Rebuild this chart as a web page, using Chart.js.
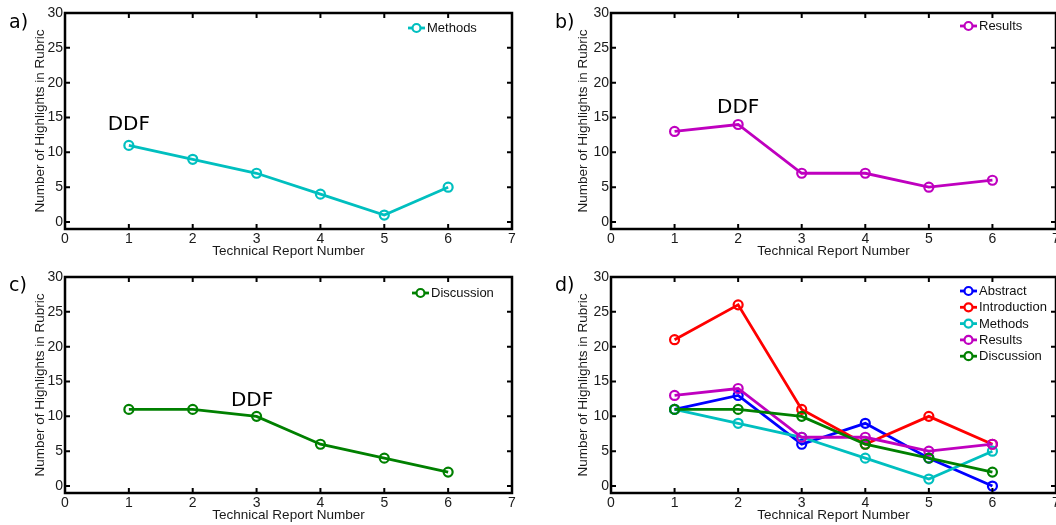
<!DOCTYPE html>
<html>
<head>
<meta charset="utf-8">
<script src="https://cdn.jsdelivr.net/npm/chart.js@4.4.1/dist/chart.umd.min.js"></script>
<style>
  body { margin: 0; width: 1056px; height: 525px; overflow: hidden; background: #fff; position: relative; }
  canvas { position: absolute; }
  .panel-label { position: absolute; font: 19px "DejaVu Sans", sans-serif; color: #000; line-height: 1; }
</style>
</head>
<body>
<canvas id="chartA" width="528" height="262" style="left:0;top:0"></canvas>
<canvas id="chartB" width="560" height="262" style="left:528px;top:0"></canvas>
<canvas id="chartC" width="528" height="262" style="left:0;top:264px"></canvas>
<canvas id="chartD" width="560" height="262" style="left:528px;top:264px"></canvas>
<div class="panel-label" style="left:9px;top:12px">a)</div>
<div class="panel-label" style="left:555px;top:12px">b)</div>
<div class="panel-label" style="left:9px;top:275px">c)</div>
<div class="panel-label" style="left:555px;top:275px">d)</div>
<script>
// données
const reportNumbers = [1, 2, 3, 4, 5, 6];
const abstractCounts = [11, 13, 6, 9, 4, 0];
const introductionCounts = [21, 26, 11, 6, 10, 6];
const methodsCounts = [11, 9, 7, 4, 1, 5];
const resultsCounts = [13, 14, 7, 7, 5, 6];
const discussionCounts = [11, 11, 10, 6, 4, 2];
const xTickValues = [0, 1, 2, 3, 4, 5, 6, 7];
const yTickValues = [0, 5, 10, 15, 20, 25, 30];

const COLORS = {
    Abstract: '#0000FF',
    Introduction: '#FF0000',
    Methods: '#00BFBF',
    Results: '#BF00BF',
    Discussion: '#008000'
};

const tickFont = { family: '"Liberation Sans", Arial, sans-serif', size: 14 };
const titleFont = { family: '"Liberation Sans", Arial, sans-serif', size: 13.5 };

function makeSeries(label, values, order) {
    return {
        label: label,
        data: reportNumbers.map((x, i) => ({ x: x, y: values[i] })),
        borderColor: COLORS[label],
        borderWidth: 2.8,
        pointRadius: 4.5,
        pointBorderWidth: 2.2,
        pointBackgroundColor: 'transparent',
        pointBorderColor: COLORS[label],
        tension: 0,
        order: order || 0
    };
}

// cadre façon matlab + légende + annotation DDF
const framePlugin = {
    id: 'frame',
    afterDatasetsDraw(chart, args, opts) {
        const { ctx, chartArea } = chart;
        const { left, top, right, bottom } = chartArea;
        const xs = chart.scales.x, ys = chart.scales.y;
        ctx.save();
        ctx.strokeStyle = '#000';
        ctx.lineWidth = 2.5;
        ctx.strokeRect(left, top, right - left, bottom - top);
        ctx.lineWidth = 2;
        ctx.beginPath();
        xTickValues.forEach(v => {
            const px = xs.getPixelForValue(v);
            ctx.moveTo(px, bottom); ctx.lineTo(px, bottom - 5);
            ctx.moveTo(px, top); ctx.lineTo(px, top + 5);
        });
        yTickValues.forEach(v => {
            const py = ys.getPixelForValue(v);
            ctx.moveTo(left, py); ctx.lineTo(left + 5, py);
            ctx.moveTo(right, py); ctx.lineTo(right - 5, py);
        });
        ctx.stroke();

        // légende
        ctx.font = '13px "Liberation Sans", Arial, sans-serif';
        ctx.textBaseline = 'middle';
        ctx.textAlign = 'left';
        chart.data.datasets.forEach((ds, i) => {
            const x0 = right - opts.legendRight;
            const y0 = top + opts.legendTop + i * 16.3;
            ctx.strokeStyle = ds.borderColor;
            ctx.lineWidth = 2.8;
            ctx.beginPath();
            ctx.moveTo(x0, y0); ctx.lineTo(x0 + 17, y0);
            ctx.stroke();
            ctx.lineWidth = 2.2;
            ctx.beginPath();
            ctx.arc(x0 + 8.5, y0, 4, 0, Math.PI * 2);
            ctx.fillStyle = '#fff';
            ctx.fill();
            ctx.stroke();
            ctx.fillStyle = '#111';
            ctx.fillText(ds.label, x0 + 19, y0 + 0.5);
        });

        if (opts.note) {
            ctx.font = '20px "DejaVu Sans", sans-serif';
            ctx.textAlign = 'center';
            ctx.fillStyle = '#000';
            ctx.fillText(opts.note.text, xs.getPixelForValue(opts.note.x), ys.getPixelForValue(opts.note.y));
        }
        ctx.restore();
    }
};

function makePanel(canvasId, datasets, layoutPadding, yWidth, frameOpts) {
    return new Chart(document.getElementById(canvasId), {
        type: 'line',
        data: { datasets: datasets },
        options: {
            responsive: false,
            animation: false,
            devicePixelRatio: 1,
            layout: { padding: layoutPadding },
            plugins: {
                legend: { display: false },
                tooltip: { enabled: false },
                frame: frameOpts
            },
            scales: {
                x: {
                    type: 'linear',
                    min: 0,
                    max: 7,
                    afterBuildTicks: s => { s.ticks = xTickValues.map(v => ({ value: v })); },
                    afterFit: s => { s.height = 33; },
                    grid: { display: false, drawTicks: false },
                    border: { display: false },
                    ticks: { font: tickFont, color: '#1a1a1a', padding: 2, maxRotation: 0, autoSkip: false },
                    title: { display: true, text: 'Technical Report Number', font: titleFont, color: '#1a1a1a', padding: { top: 0, bottom: 3 } }
                },
                y: {
                    type: 'linear',
                    min: -1,
                    max: 30,
                    afterBuildTicks: s => { s.ticks = yTickValues.map(v => ({ value: v })); },
                    afterFit: s => { s.width = yWidth; },
                    grid: { display: false, drawTicks: false },
                    border: { display: false },
                    ticks: { font: tickFont, color: '#1a1a1a', padding: 2 },
                    title: { display: true, text: 'Number of Highlights in Rubric', font: titleFont, color: '#1a1a1a', padding: { top: 4, bottom: 0 } }
                }
            }
        },
        plugins: [framePlugin]
    });
}

const leftPad = { left: 28, right: 16, top: 13, bottom: 0 };
const rightPad = { left: 43, right: 32, top: 13, bottom: 0 };

makePanel('chartA', [makeSeries('Methods', methodsCounts)], leftPad, 37,
    { legendRight: 104, legendTop: 15, note: { text: 'DDF', x: 1, y: 13.9 } });
makePanel('chartB', [makeSeries('Results', resultsCounts)], rightPad, 40,
    { legendRight: 96, legendTop: 13, note: { text: 'DDF', x: 2, y: 16.4 } });
makePanel('chartC', [makeSeries('Discussion', discussionCounts)], leftPad, 37,
    { legendRight: 100, legendTop: 16, note: { text: 'DDF', x: 2.93, y: 12.3 } });
makePanel('chartD', [
    makeSeries('Abstract', abstractCounts, 4),
    makeSeries('Introduction', introductionCounts, 3),
    makeSeries('Methods', methodsCounts, 2),
    makeSeries('Results', resultsCounts, 1),
    makeSeries('Discussion', discussionCounts, 0)
], rightPad, 40, { legendRight: 96, legendTop: 14 });
</script>
</body>
</html>
